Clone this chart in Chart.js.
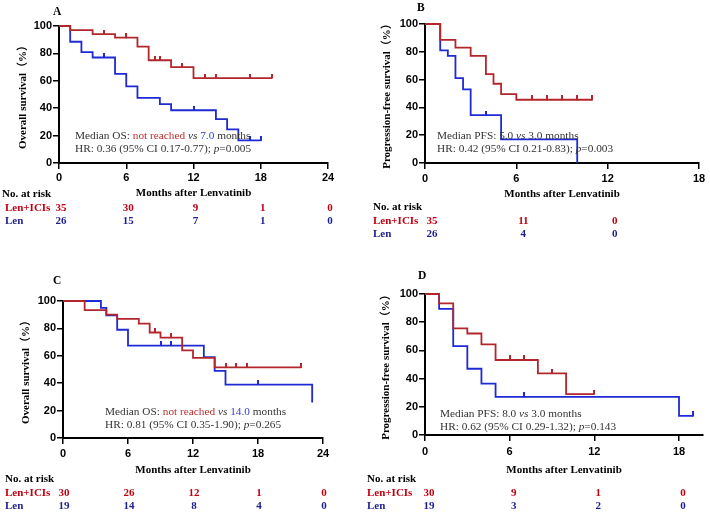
<!DOCTYPE html>
<html>
<head>
<meta charset="utf-8">
<script src="https://cdn.jsdelivr.net/npm/chart.js@4.4.1/dist/chart.umd.min.js"></script>
<style>
body { margin: 0; background: #fff; }
#page { position: relative; width: 710px; height: 513px; overflow: hidden; font-family: "Liberation Serif", "Times New Roman", serif; }
canvas { position: absolute; }
.t { position: absolute; white-space: nowrap; font-size: 11px; line-height: 13px; font-weight: bold; color: #000; }
.letter { font-size: 11.5px; }
.red { color: #c00012; }
.navy { color: #1d1d92; }
.note { position: absolute; white-space: nowrap; font-size: 11.3px; line-height: 13px; color: #333; }
.note .nr { color: #b8312f; }
.note .bl { color: #3340cc; }
</style>
</head>
<body>
<div id="page"></div>
<script>
// panel A - overall survival, cohort 1
const timesA_combo = [0, 1, 3, 5, 7, 8, 10, 12, 19];
const survA_combo = [100, 97, 94, 91.5, 85, 75, 70, 62, 62];
const censA_combo = [4, 6, 8.6, 9, 11, 13, 14, 17, 19];
const timesA_len = [0, 1, 2, 3, 5, 6, 7, 9, 10, 14, 15, 16, 18];
const survA_len = [100, 88.5, 81, 77, 65, 56, 47.5, 43, 38.5, 32, 24.5, 16.5, 16.5];
const censA_len = [4, 12, 17, 18];
const riskA_months = [0, 6, 12, 18, 24];
const riskA_combo = [35, 30, 9, 1, 0];
const riskA_len = [26, 15, 7, 1, 0];

// panel B - progression-free survival, cohort 1
const timesB_combo = [0, 1, 2, 3, 4, 4.5, 5, 6, 11];
const survB_combo = [100, 88.6, 83, 77, 64, 57, 49.5, 45.5, 45.5];
const censB_combo = [7, 8, 9, 10, 11];
const timesB_len = [0, 1, 1.5, 2, 2.5, 3, 5, 10];
const survB_len = [100, 81, 77, 61, 53, 34.5, 17, 0];
const censB_len = [4];
const riskB_months = [0, 6, 12];
const riskB_combo = [35, 11, 0];
const riskB_len = [26, 4, 0];

// panel C - overall survival, cohort 2
const timesC_combo = [0, 2, 4, 5, 7, 8, 9, 11, 12, 14, 22];
const survC_combo = [100, 93.4, 90, 87, 83.5, 77, 73.3, 64, 58.5, 51.5, 51.5];
const censC_combo = [8.5, 10, 15, 16, 17, 22];
const timesC_len = [0, 3.5, 4, 5, 6, 13, 14, 15, 23];
const survC_len = [100, 95, 89.5, 79, 67.5, 59, 49, 39, 26];
const censC_len = [9, 10, 18];
const riskC_months = [0, 6, 12, 18, 24];
const riskC_combo = [30, 26, 12, 1, 0];
const riskC_len = [19, 14, 8, 4, 0];

// panel D - progression-free survival, cohort 2
const timesD_combo = [0, 1, 2, 3, 4, 5, 8, 10, 12];
const survD_combo = [100, 93.4, 75.6, 72, 64.3, 53.2, 43.7, 29, 29];
const censD_combo = [6, 7, 9, 12];
const timesD_len = [0, 1, 2, 3, 4, 5, 18, 19];
const survD_len = [100, 89.5, 63, 47, 36.5, 27, 13.5, 13.5];
const censD_len = [7, 19];
const riskD_months = [0, 6, 12, 18];
const riskD_combo = [30, 9, 1, 0];
const riskD_len = [19, 3, 2, 0];

const RED = '#b3262c';
const BLUE = '#1f2ad4';
const page = document.getElementById('page');

const panels = [
    {
        letter: 'A', yTitle: 'Overall survival\uFF08%\uFF09', xMax: 24, xTicks: [0, 6, 12, 18, 24],
        combo: [timesA_combo, survA_combo, censA_combo], len: [timesA_len, survA_len, censA_len],
        risk: [riskA_months, riskA_combo, riskA_len],
        note: ['Median OS: <span class="nr">not reached</span> <i>vs</i> <span class="bl">7.0</span> months',
               'HR: 0.36 (95% CI 0.17-0.77); <i>p</i>=0.005'],
        box: {left: 0, top: 0, width: 345, height: 204}, area: {left: 59, top: 26, right: 328},
        padLeft: 13, xAxisH: 41, tickPad: 2,
        letterPos: [53, 5], notePos: [75, 128.5],
        riskHead: [2, 193], rowX: 5, rowY: [207, 220], numShift: 2
    },
    {
        letter: 'B', yTitle: 'Progression-free survival\uFF08%\uFF09', xMax: 18, xTicks: [0, 6, 12, 18],
        combo: [timesB_combo, survB_combo, censB_combo], len: [timesB_len, survB_len, censB_len],
        risk: [riskB_months, riskB_combo, riskB_len],
        note: ['Median PFS: 5.0 <i>vs</i> 3.0 months',
               'HR: 0.42 (95% CI 0.21-0.83); <i>p</i>=0.003'],
        box: {left: 360, top: 0, width: 350, height: 205}, area: {left: 65, top: 24, right: 339},
        padLeft: 17, xAxisH: 42, tickPad: 3,
        letterPos: [417, 1], notePos: [437, 128.5],
        riskHead: [373, 206], rowX: 373, rowY: [220, 233], numShift: 7
    },
    {
        letter: 'C', yTitle: 'Overall survival\uFF08%\uFF09', xMax: 24, xTicks: [0, 6, 12, 18, 24],
        combo: [timesC_combo, survC_combo, censC_combo], len: [timesC_len, survC_len, censC_len],
        risk: [riskC_months, riskC_combo, riskC_len],
        note: ['Median OS: <span class="nr">not reached</span> <i>vs</i> <span class="bl">14.0</span> months',
               'HR: 0.81 (95% CI 0.35-1.90); <i>p</i>=0.265'],
        box: {left: 0, top: 260, width: 345, height: 221}, area: {left: 63, top: 41, right: 323},
        padLeft: 16, xAxisH: 43, tickPad: 3,
        letterPos: [53, 274], notePos: [105, 405],
        riskHead: [5, 478], rowX: 5, rowY: [492, 505], numShift: 1
    },
    {
        letter: 'D', yTitle: 'Progression-free survival\uFF08%\uFF09', xMax: 19.7, xTicks: [0, 6, 12, 18],
        combo: [timesD_combo, survD_combo, censD_combo], len: [timesD_len, survD_len, censD_len],
        risk: [riskD_months, riskD_combo, riskD_len],
        note: ['Median PFS: 8.0 <i>vs</i> 3.0 months',
               'HR: 0.62 (95% CI 0.29-1.32); <i>p</i>=0.143'],
        box: {left: 360, top: 260, width: 350, height: 221}, area: {left: 65, top: 34, right: 343},
        padLeft: 16, xAxisH: 46, tickPad: 4,
        letterPos: [418, 269], notePos: [440, 406.5],
        riskHead: [367, 478], rowX: 367, rowY: [492, 505], numShift: 4
    }
];

// survival value at time t
function survAt(times, surv, t){
    let v = surv[0];
    for(let i = 0; i < times.length; i++){
        if(times[i] <= t) v = surv[i];
    }
    return v;
}

// small upward tick used as the censor marker
function censorMark(color){
    const c = document.createElement('canvas');
    c.width = 2;
    c.height = 9;
    const g = c.getContext('2d');
    g.fillStyle = color;
    g.fillRect(0, 0, 2, 5);
    return c;
}

function addText(html, cls, x, y, centered){
    const d = document.createElement('div');
    d.className = cls;
    d.innerHTML = html;
    d.style.left = x + 'px';
    d.style.top = (y - 6.5) + 'px';
    if(centered) d.style.transform = 'translateX(-50%)';
    page.appendChild(d);
}

function curveSets(series, color){
    const [times, surv, cens] = series;
    return [{
        data: times.map((t, i) => ({x: t, y: surv[i]})),
        borderColor: color,
        borderWidth: 1.8,
        stepped: true,
        pointRadius: 0,
        fill: false,
        clip: false
    }, {
        data: cens.map(t => ({x: t, y: survAt(times, surv, t)})),
        showLine: false,
        pointStyle: censorMark(color),
        pointRadius: 3,
        clip: false
    }];
}

function createPanel(p){
    const canvas = document.createElement('canvas');
    canvas.width = p.box.width;
    canvas.height = p.box.height;
    canvas.style.left = p.box.left + 'px';
    canvas.style.top = p.box.top + 'px';
    page.appendChild(canvas);

    const tickFont = {family: '"Liberation Sans", Arial, sans-serif', size: 11, weight: 'bold'};
    const titleFont = {family: '"Liberation Serif", "Times New Roman", "Noto Sans CJK SC", serif', size: 11, weight: 'bold'};
    const grid = {drawOnChartArea: false, drawTicks: true, tickLength: 6, color: '#000', lineWidth: 1.5};
    const border = {color: '#000', width: 2};

    const chart = new Chart(canvas.getContext('2d'), {
        type: 'line',
        data: {
            datasets: [...curveSets(p.combo, RED), ...curveSets(p.len, BLUE)]
        },
        options: {
            responsive: false,
            animation: false,
            events: [],
            layout: {
                padding: {left: p.padLeft, top: p.area.top, right: p.box.width - p.area.right, bottom: 0}
            },
            plugins: {legend: {display: false}, tooltip: {enabled: false}},
            scales: {
                x: {
                    type: 'linear',
                    min: 0,
                    max: p.xMax,
                    afterBuildTicks: s => { s.ticks = p.xTicks.map(v => ({value: v})); },
                    afterFit: s => { s.height = p.xAxisH; },
                    ticks: {font: tickFont, color: '#000', padding: p.tickPad, maxRotation: 0},
                    grid: grid,
                    border: border,
                    title: {display: true, text: 'Months after Lenvatinib', font: titleFont, color: '#000', padding: {top: 4, bottom: 4}}
                },
                y: {
                    min: 0,
                    max: 100,
                    afterFit: s => { s.width = p.area.left - p.padLeft; },
                    ticks: {stepSize: 20, font: tickFont, color: '#000', padding: 1},
                    grid: grid,
                    border: border,
                    title: {display: true, text: p.yTitle, font: titleFont, color: '#000', padding: {top: 4, bottom: 4}}
                }
            }
        }
    });

    addText(p.letter, 't letter', p.letterPos[0], p.letterPos[1] + 6.5, false);
    addText(p.note[0], 'note', p.notePos[0], p.notePos[1] + 6.5, false);
    addText(p.note[1], 'note', p.notePos[0], p.notePos[1] + 19.5, false);

    // number at risk table, columns placed on the x scale
    const [months, combo, len] = p.risk;
    addText('No. at risk', 't', p.riskHead[0], p.riskHead[1], false);
    addText('Len+ICIs', 't red', p.rowX, p.rowY[0], false);
    addText('Len', 't navy', p.rowX, p.rowY[1], false);
    months.forEach((m, i) => {
        const x = p.box.left + chart.scales.x.getPixelForValue(m) + p.numShift;
        addText(String(combo[i]), 't red', x, p.rowY[0], true);
        addText(String(len[i]), 't navy', x, p.rowY[1], true);
    });
}

panels.forEach(createPanel);
</script>
</body>
</html>
